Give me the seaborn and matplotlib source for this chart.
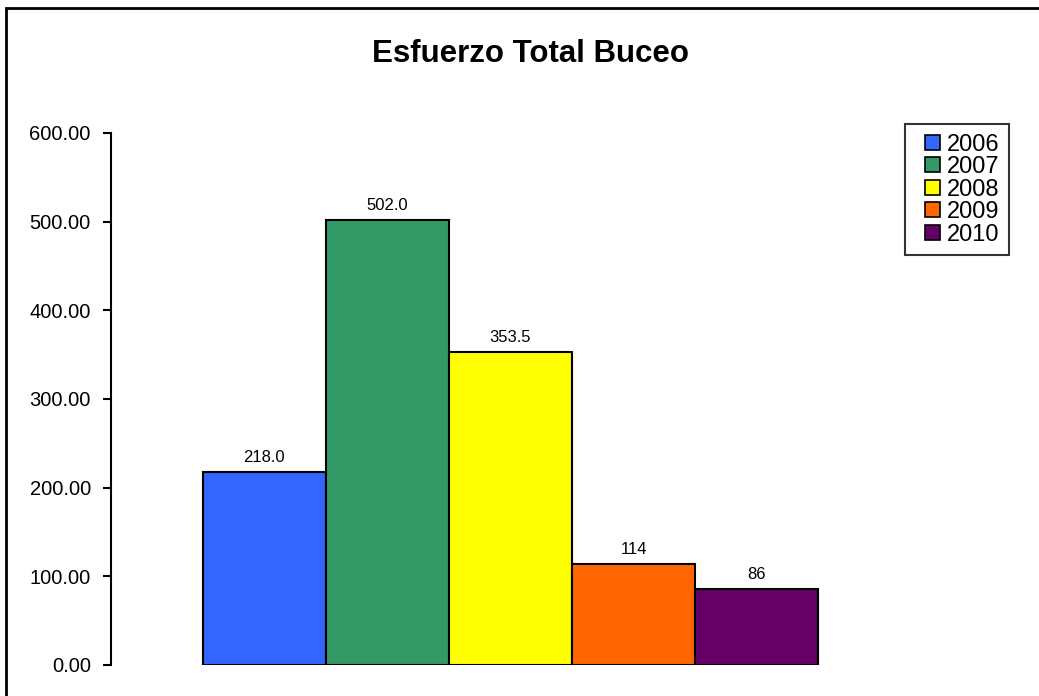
import matplotlib
matplotlib.use("Agg")
import matplotlib.pyplot as plt
import seaborn as sns
import pandas as pd
from matplotlib.patches import Rectangle
from matplotlib.legend_handler import HandlerPatch

years = ["2006", "2007", "2008", "2009", "2010"]
values = [218.0, 502.0, 353.5, 114, 86]
labels = ["218.0", "502.0", "353.5", "114", "86"]
colors = ["#3366FF", "#339966", "#FFFF00", "#FF6600", "#660066"]
yticks = [0, 100, 200, 300, 400, 500, 600]

sns.set_theme(style="white")
plt.rcParams['font.family'] = ['Liberation Sans', 'DejaVu Sans']

W, H = 1039, 696
fig = plt.figure(figsize=(W / 100, H / 100), dpi=100)
ax = fig.add_axes([111 / W, 1 - 665 / H, (910 - 111) / W, (665 - 133) / H])

df = pd.DataFrame({"cat": ["Buceo"] * len(years), "year": years, "value": values})
sns.barplot(data=df, x="cat", y="value", hue="year", hue_order=years,
            palette=colors, width=0.77, edgecolor="black", linewidth=1.5,
            saturation=1, ax=ax, legend=True)

ax.set_xlim(-0.5, 0.5)
ax.set_ylim(0, 600)
ax.set_yticks(yticks)
ax.set_yticklabels([f"{v:.2f}" for v in yticks], fontsize=14.5)
ax.set_xticks([])
ax.set_xlabel("")
ax.set_ylabel("")
for s in ["top", "right", "bottom"]:
    ax.spines[s].set_visible(False)
ax.spines["left"].set_linewidth(1.5)
ax.spines["left"].set_color("black")
ax.tick_params(axis="y", which="major", left=True, length=6, width=1.5,
               color="black", pad=8.5, labelcolor="black")

for cont, lab in zip(ax.containers, labels):
    ax.bar_label(cont, labels=[lab], padding=5, fontsize=12, color="black")


def square_patch(legend, orig_handle, xdescent, ydescent, width, height, fontsize):
    sq = 0.64 * fontsize
    return Rectangle((-xdescent + width - sq, -ydescent + (height - sq) / 2), sq, sq)


handles, hlabels = ax.get_legend_handles_labels()
leg = ax.legend(handles, hlabels, loc="lower right",
                bbox_to_anchor=(1009 / W, 1 - 255 / H),
                bbox_transform=fig.transFigure, fontsize=17, frameon=True,
                fancybox=False, edgecolor="black", handlelength=1.08,
                handleheight=0.7, handletextpad=0.3, labelspacing=0.02,
                borderpad=0.4, borderaxespad=0,
                handler_map={Rectangle: HandlerPatch(patch_func=square_patch)})
leg.get_frame().set_linewidth(1.5)
for t in leg.get_texts():
    t.set_color("black")
for h in leg.legend_handles:
    h.set_edgecolor("black")
    h.set_linewidth(1.2)

fig.text(531 / W, 1 - 54 / H, "Esfuerzo Total Buceo", ha="center", va="center",
         fontsize=22.5, fontweight="bold", color="black")

fig.patches.append(Rectangle((6 / W, -0.1), 1.2, 1 - 8 / H + 0.1,
                             transform=fig.transFigure, fill=False,
                             edgecolor="black", linewidth=2))

fig.savefig("out.png", dpi=100)
